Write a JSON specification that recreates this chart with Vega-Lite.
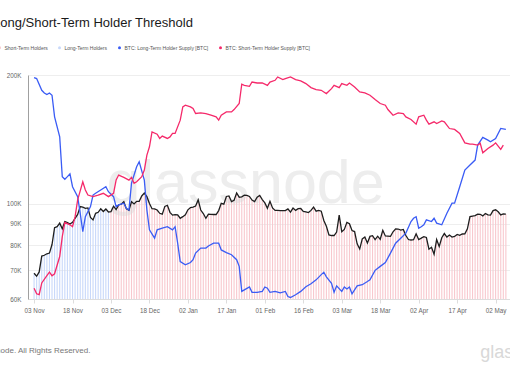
{
  "$schema": "https://vega.github.io/schema/vega-lite/v6.json",
  "width": 488,
  "height": 224,
  "autosize": {"type": "none"},
  "padding": {"left": 28, "top": 75, "right": 0, "bottom": 70},
  "background": "white",
  "config": {
    "view": {"stroke": null},
    "font": "Liberation Sans",
    "axis": {"labelFont": "Liberation Sans", "titleFont": "Liberation Sans"},
    "legend": {"labelFont": "Liberation Sans"}
  },
  "title": {
    "text": "Long/Short-Term Holder Threshold",
    "anchor": "start",
    "frame": "group",
    "dx": -35,
    "offset": 5,
    "baseline": "alphabetic",
    "fontSize": 13,
    "fontWeight": "normal",
    "color": "#1a1a1a",
    "font": "Liberation Sans"
  },
  "datasets": {
    "price": [
      {"date": "2024-11-03", "price": 68900, "holder": "Long-Term Holders"},
      {"date": "2024-11-04", "price": 67800, "holder": "Long-Term Holders"},
      {"date": "2024-11-05", "price": 69400, "holder": "Long-Term Holders"},
      {"date": "2024-11-06", "price": 75600, "holder": "Long-Term Holders"},
      {"date": "2024-11-07", "price": 75900, "holder": "Long-Term Holders"},
      {"date": "2024-11-08", "price": 76500, "holder": "Long-Term Holders"},
      {"date": "2024-11-09", "price": 76800, "holder": "Long-Term Holders"},
      {"date": "2024-11-10", "price": 80400, "holder": "Long-Term Holders"},
      {"date": "2024-11-11", "price": 88000, "holder": "Long-Term Holders"},
      {"date": "2024-11-12", "price": 88500, "holder": "Long-Term Holders"},
      {"date": "2024-11-13", "price": 90200, "holder": "Long-Term Holders"},
      {"date": "2024-11-14", "price": 87500, "holder": "Long-Term Holders"},
      {"date": "2024-11-15", "price": 91000, "holder": "Long-Term Holders"},
      {"date": "2024-11-16", "price": 90500, "holder": "Long-Term Holders"},
      {"date": "2024-11-17", "price": 89800, "holder": "Long-Term Holders"},
      {"date": "2024-11-18", "price": 90600, "holder": "Long-Term Holders"},
      {"date": "2024-11-19", "price": 92600, "holder": "Long-Term Holders"},
      {"date": "2024-11-20", "price": 94500, "holder": "Long-Term Holders"},
      {"date": "2024-11-21", "price": 98600, "holder": "Long-Term Holders"},
      {"date": "2024-11-22", "price": 98300, "holder": "Long-Term Holders"},
      {"date": "2024-11-23", "price": 97700, "holder": "Long-Term Holders"},
      {"date": "2024-11-24", "price": 97900, "holder": "Long-Term Holders"},
      {"date": "2024-11-25", "price": 93000, "holder": "Long-Term Holders"},
      {"date": "2024-11-26", "price": 91800, "holder": "Long-Term Holders"},
      {"date": "2024-11-27", "price": 95100, "holder": "Long-Term Holders"},
      {"date": "2024-11-28", "price": 95600, "holder": "Long-Term Holders"},
      {"date": "2024-11-29", "price": 97400, "holder": "Long-Term Holders"},
      {"date": "2024-11-30", "price": 96000, "holder": "Long-Term Holders"},
      {"date": "2024-12-01", "price": 97300, "holder": "Long-Term Holders"},
      {"date": "2024-12-02", "price": 95800, "holder": "Long-Term Holders"},
      {"date": "2024-12-03", "price": 96000, "holder": "Short-Term Holders"},
      {"date": "2024-12-04", "price": 98800, "holder": "Short-Term Holders"},
      {"date": "2024-12-05", "price": 97000, "holder": "Short-Term Holders"},
      {"date": "2024-12-06", "price": 99500, "holder": "Short-Term Holders"},
      {"date": "2024-12-07", "price": 99900, "holder": "Short-Term Holders"},
      {"date": "2024-12-08", "price": 101200, "holder": "Short-Term Holders"},
      {"date": "2024-12-09", "price": 97400, "holder": "Short-Term Holders"},
      {"date": "2024-12-10", "price": 96700, "holder": "Short-Term Holders"},
      {"date": "2024-12-11", "price": 101200, "holder": "Short-Term Holders"},
      {"date": "2024-12-12", "price": 100000, "holder": "Short-Term Holders"},
      {"date": "2024-12-13", "price": 101400, "holder": "Short-Term Holders"},
      {"date": "2024-12-14", "price": 101400, "holder": "Short-Term Holders"},
      {"date": "2024-12-15", "price": 104400, "holder": "Short-Term Holders"},
      {"date": "2024-12-16", "price": 106000, "holder": "Short-Term Holders"},
      {"date": "2024-12-17", "price": 104000, "holder": "Short-Term Holders"},
      {"date": "2024-12-18", "price": 100200, "holder": "Short-Term Holders"},
      {"date": "2024-12-19", "price": 97500, "holder": "Short-Term Holders"},
      {"date": "2024-12-20", "price": 97400, "holder": "Short-Term Holders"},
      {"date": "2024-12-21", "price": 96800, "holder": "Short-Term Holders"},
      {"date": "2024-12-22", "price": 95100, "holder": "Short-Term Holders"},
      {"date": "2024-12-23", "price": 94700, "holder": "Short-Term Holders"},
      {"date": "2024-12-24", "price": 98700, "holder": "Short-Term Holders"},
      {"date": "2024-12-25", "price": 99300, "holder": "Short-Term Holders"},
      {"date": "2024-12-26", "price": 95600, "holder": "Short-Term Holders"},
      {"date": "2024-12-27", "price": 94200, "holder": "Short-Term Holders"},
      {"date": "2024-12-28", "price": 94400, "holder": "Short-Term Holders"},
      {"date": "2024-12-29", "price": 94300, "holder": "Short-Term Holders"},
      {"date": "2024-12-30", "price": 92600, "holder": "Short-Term Holders"},
      {"date": "2024-12-31", "price": 93400, "holder": "Short-Term Holders"},
      {"date": "2025-01-01", "price": 94300, "holder": "Short-Term Holders"},
      {"date": "2025-01-02", "price": 96900, "holder": "Short-Term Holders"},
      {"date": "2025-01-03", "price": 98100, "holder": "Short-Term Holders"},
      {"date": "2025-01-04", "price": 98300, "holder": "Short-Term Holders"},
      {"date": "2025-01-05", "price": 98900, "holder": "Short-Term Holders"},
      {"date": "2025-01-06", "price": 102200, "holder": "Short-Term Holders"},
      {"date": "2025-01-07", "price": 96800, "holder": "Short-Term Holders"},
      {"date": "2025-01-08", "price": 95000, "holder": "Short-Term Holders"},
      {"date": "2025-01-09", "price": 92600, "holder": "Short-Term Holders"},
      {"date": "2025-01-10", "price": 94700, "holder": "Short-Term Holders"},
      {"date": "2025-01-11", "price": 94600, "holder": "Short-Term Holders"},
      {"date": "2025-01-12", "price": 94500, "holder": "Short-Term Holders"},
      {"date": "2025-01-13", "price": 94500, "holder": "Short-Term Holders"},
      {"date": "2025-01-14", "price": 96500, "holder": "Short-Term Holders"},
      {"date": "2025-01-15", "price": 100300, "holder": "Short-Term Holders"},
      {"date": "2025-01-16", "price": 99900, "holder": "Short-Term Holders"},
      {"date": "2025-01-17", "price": 104100, "holder": "Short-Term Holders"},
      {"date": "2025-01-18", "price": 104400, "holder": "Short-Term Holders"},
      {"date": "2025-01-19", "price": 101300, "holder": "Short-Term Holders"},
      {"date": "2025-01-20", "price": 102000, "holder": "Short-Term Holders"},
      {"date": "2025-01-21", "price": 106100, "holder": "Short-Term Holders"},
      {"date": "2025-01-22", "price": 103700, "holder": "Short-Term Holders"},
      {"date": "2025-01-23", "price": 103900, "holder": "Short-Term Holders"},
      {"date": "2025-01-24", "price": 104800, "holder": "Short-Term Holders"},
      {"date": "2025-01-25", "price": 104700, "holder": "Short-Term Holders"},
      {"date": "2025-01-26", "price": 104100, "holder": "Short-Term Holders"},
      {"date": "2025-01-27", "price": 102100, "holder": "Short-Term Holders"},
      {"date": "2025-01-28", "price": 101300, "holder": "Short-Term Holders"},
      {"date": "2025-01-29", "price": 103700, "holder": "Short-Term Holders"},
      {"date": "2025-01-30", "price": 104700, "holder": "Short-Term Holders"},
      {"date": "2025-01-31", "price": 102400, "holder": "Short-Term Holders"},
      {"date": "2025-02-01", "price": 100600, "holder": "Short-Term Holders"},
      {"date": "2025-02-02", "price": 97700, "holder": "Short-Term Holders"},
      {"date": "2025-02-03", "price": 101400, "holder": "Short-Term Holders"},
      {"date": "2025-02-04", "price": 97900, "holder": "Short-Term Holders"},
      {"date": "2025-02-05", "price": 96600, "holder": "Short-Term Holders"},
      {"date": "2025-02-06", "price": 96600, "holder": "Short-Term Holders"},
      {"date": "2025-02-07", "price": 96500, "holder": "Short-Term Holders"},
      {"date": "2025-02-08", "price": 96500, "holder": "Short-Term Holders"},
      {"date": "2025-02-09", "price": 96500, "holder": "Short-Term Holders"},
      {"date": "2025-02-10", "price": 97400, "holder": "Short-Term Holders"},
      {"date": "2025-02-11", "price": 95700, "holder": "Short-Term Holders"},
      {"date": "2025-02-12", "price": 97800, "holder": "Short-Term Holders"},
      {"date": "2025-02-13", "price": 96600, "holder": "Short-Term Holders"},
      {"date": "2025-02-14", "price": 97500, "holder": "Short-Term Holders"},
      {"date": "2025-02-15", "price": 97600, "holder": "Short-Term Holders"},
      {"date": "2025-02-16", "price": 96100, "holder": "Short-Term Holders"},
      {"date": "2025-02-17", "price": 95800, "holder": "Short-Term Holders"},
      {"date": "2025-02-18", "price": 95500, "holder": "Short-Term Holders"},
      {"date": "2025-02-19", "price": 96600, "holder": "Short-Term Holders"},
      {"date": "2025-02-20", "price": 98300, "holder": "Short-Term Holders"},
      {"date": "2025-02-21", "price": 96200, "holder": "Short-Term Holders"},
      {"date": "2025-02-22", "price": 96600, "holder": "Short-Term Holders"},
      {"date": "2025-02-23", "price": 96200, "holder": "Short-Term Holders"},
      {"date": "2025-02-24", "price": 91500, "holder": "Short-Term Holders"},
      {"date": "2025-02-25", "price": 88700, "holder": "Short-Term Holders"},
      {"date": "2025-02-26", "price": 84700, "holder": "Short-Term Holders"},
      {"date": "2025-02-27", "price": 84400, "holder": "Short-Term Holders"},
      {"date": "2025-02-28", "price": 84400, "holder": "Short-Term Holders"},
      {"date": "2025-03-01", "price": 86000, "holder": "Short-Term Holders"},
      {"date": "2025-03-02", "price": 94200, "holder": "Short-Term Holders"},
      {"date": "2025-03-03", "price": 86100, "holder": "Short-Term Holders"},
      {"date": "2025-03-04", "price": 87200, "holder": "Short-Term Holders"},
      {"date": "2025-03-05", "price": 90600, "holder": "Short-Term Holders"},
      {"date": "2025-03-06", "price": 89900, "holder": "Short-Term Holders"},
      {"date": "2025-03-07", "price": 86700, "holder": "Short-Term Holders"},
      {"date": "2025-03-08", "price": 86200, "holder": "Short-Term Holders"},
      {"date": "2025-03-09", "price": 80700, "holder": "Short-Term Holders"},
      {"date": "2025-03-10", "price": 78500, "holder": "Short-Term Holders"},
      {"date": "2025-03-11", "price": 82900, "holder": "Short-Term Holders"},
      {"date": "2025-03-12", "price": 83700, "holder": "Short-Term Holders"},
      {"date": "2025-03-13", "price": 81100, "holder": "Short-Term Holders"},
      {"date": "2025-03-14", "price": 84000, "holder": "Short-Term Holders"},
      {"date": "2025-03-15", "price": 84300, "holder": "Short-Term Holders"},
      {"date": "2025-03-16", "price": 82600, "holder": "Short-Term Holders"},
      {"date": "2025-03-17", "price": 84100, "holder": "Short-Term Holders"},
      {"date": "2025-03-18", "price": 82700, "holder": "Short-Term Holders"},
      {"date": "2025-03-19", "price": 86800, "holder": "Short-Term Holders"},
      {"date": "2025-03-20", "price": 84200, "holder": "Short-Term Holders"},
      {"date": "2025-03-21", "price": 84100, "holder": "Short-Term Holders"},
      {"date": "2025-03-22", "price": 84000, "holder": "Short-Term Holders"},
      {"date": "2025-03-23", "price": 86100, "holder": "Short-Term Holders"},
      {"date": "2025-03-24", "price": 87500, "holder": "Short-Term Holders"},
      {"date": "2025-03-25", "price": 87400, "holder": "Short-Term Holders"},
      {"date": "2025-03-26", "price": 86900, "holder": "Short-Term Holders"},
      {"date": "2025-03-27", "price": 87200, "holder": "Short-Term Holders"},
      {"date": "2025-03-28", "price": 84400, "holder": "Short-Term Holders"},
      {"date": "2025-03-29", "price": 82600, "holder": "Short-Term Holders"},
      {"date": "2025-03-30", "price": 82400, "holder": "Short-Term Holders"},
      {"date": "2025-03-31", "price": 82500, "holder": "Short-Term Holders"},
      {"date": "2025-04-01", "price": 85200, "holder": "Short-Term Holders"},
      {"date": "2025-04-02", "price": 82600, "holder": "Short-Term Holders"},
      {"date": "2025-04-03", "price": 83200, "holder": "Short-Term Holders"},
      {"date": "2025-04-04", "price": 83900, "holder": "Short-Term Holders"},
      {"date": "2025-04-05", "price": 83500, "holder": "Short-Term Holders"},
      {"date": "2025-04-06", "price": 78400, "holder": "Short-Term Holders"},
      {"date": "2025-04-07", "price": 79200, "holder": "Short-Term Holders"},
      {"date": "2025-04-08", "price": 76300, "holder": "Short-Term Holders"},
      {"date": "2025-04-09", "price": 82600, "holder": "Short-Term Holders"},
      {"date": "2025-04-10", "price": 79600, "holder": "Short-Term Holders"},
      {"date": "2025-04-11", "price": 83400, "holder": "Short-Term Holders"},
      {"date": "2025-04-12", "price": 85300, "holder": "Short-Term Holders"},
      {"date": "2025-04-13", "price": 83700, "holder": "Short-Term Holders"},
      {"date": "2025-04-14", "price": 84600, "holder": "Short-Term Holders"},
      {"date": "2025-04-15", "price": 83700, "holder": "Short-Term Holders"},
      {"date": "2025-04-16", "price": 84000, "holder": "Short-Term Holders"},
      {"date": "2025-04-17", "price": 84900, "holder": "Short-Term Holders"},
      {"date": "2025-04-18", "price": 84500, "holder": "Short-Term Holders"},
      {"date": "2025-04-19", "price": 85100, "holder": "Short-Term Holders"},
      {"date": "2025-04-20", "price": 85200, "holder": "Short-Term Holders"},
      {"date": "2025-04-21", "price": 87500, "holder": "Short-Term Holders"},
      {"date": "2025-04-22", "price": 93400, "holder": "Short-Term Holders"},
      {"date": "2025-04-23", "price": 93700, "holder": "Short-Term Holders"},
      {"date": "2025-04-24", "price": 93900, "holder": "Short-Term Holders"},
      {"date": "2025-04-25", "price": 94700, "holder": "Short-Term Holders"},
      {"date": "2025-04-26", "price": 94600, "holder": "Short-Term Holders"},
      {"date": "2025-04-27", "price": 93800, "holder": "Short-Term Holders"},
      {"date": "2025-04-28", "price": 95000, "holder": "Short-Term Holders"},
      {"date": "2025-04-29", "price": 94300, "holder": "Short-Term Holders"},
      {"date": "2025-04-30", "price": 94200, "holder": "Short-Term Holders"},
      {"date": "2025-05-01", "price": 96500, "holder": "Short-Term Holders"},
      {"date": "2025-05-02", "price": 96900, "holder": "Short-Term Holders"},
      {"date": "2025-05-03", "price": 95900, "holder": "Short-Term Holders"},
      {"date": "2025-05-04", "price": 94300, "holder": "Short-Term Holders"},
      {"date": "2025-05-05", "price": 94800, "holder": "Short-Term Holders"},
      {"date": "2025-05-06", "price": 94700, "holder": "Short-Term Holders"}
    ],
    "lth": [
      {"date": "2024-11-03", "value": 197200}, {"date": "2024-11-04", "value": 196200},
      {"date": "2024-11-06", "value": 184200}, {"date": "2024-11-07", "value": 181600},
      {"date": "2024-11-08", "value": 180000}, {"date": "2024-11-09", "value": 181600},
      {"date": "2024-11-10", "value": 179400}, {"date": "2024-11-11", "value": 159700},
      {"date": "2024-11-13", "value": 143400}, {"date": "2024-11-14", "value": 115800},
      {"date": "2024-11-15", "value": 114200}, {"date": "2024-11-16", "value": 115800},
      {"date": "2024-11-17", "value": 117500}, {"date": "2024-11-18", "value": 109700},
      {"date": "2024-11-20", "value": 104000}, {"date": "2024-11-21", "value": 95100},
      {"date": "2024-11-22", "value": 86200}, {"date": "2024-11-23", "value": 93400},
      {"date": "2024-11-25", "value": 98600}, {"date": "2024-11-26", "value": 104900},
      {"date": "2024-11-27", "value": 105900}, {"date": "2024-11-29", "value": 107800},
      {"date": "2024-12-01", "value": 109700}, {"date": "2024-12-02", "value": 106800},
      {"date": "2024-12-04", "value": 104000}, {"date": "2024-12-05", "value": 98600},
      {"date": "2024-12-06", "value": 99500}, {"date": "2024-12-08", "value": 100400},
      {"date": "2024-12-09", "value": 97700}, {"date": "2024-12-10", "value": 96800},
      {"date": "2024-12-11", "value": 111800}, {"date": "2024-12-13", "value": 122100},
      {"date": "2024-12-14", "value": 125500}, {"date": "2024-12-16", "value": 113700},
      {"date": "2024-12-17", "value": 96800}, {"date": "2024-12-18", "value": 87000},
      {"date": "2024-12-20", "value": 83200}, {"date": "2024-12-21", "value": 87000},
      {"date": "2024-12-23", "value": 87800}, {"date": "2024-12-25", "value": 88500},
      {"date": "2024-12-27", "value": 87000}, {"date": "2024-12-28", "value": 88500},
      {"date": "2024-12-29", "value": 81000}, {"date": "2024-12-30", "value": 73400},
      {"date": "2025-01-01", "value": 72100}, {"date": "2025-01-03", "value": 73000},
      {"date": "2025-01-04", "value": 74100}, {"date": "2025-01-05", "value": 76800},
      {"date": "2025-01-07", "value": 78900}, {"date": "2025-01-09", "value": 78900},
      {"date": "2025-01-10", "value": 79800}, {"date": "2025-01-12", "value": 81000},
      {"date": "2025-01-14", "value": 81000}, {"date": "2025-01-15", "value": 78100},
      {"date": "2025-01-17", "value": 77000}, {"date": "2025-01-19", "value": 76100},
      {"date": "2025-01-21", "value": 74100}, {"date": "2025-01-22", "value": 71500},
      {"date": "2025-01-23", "value": 62500}, {"date": "2025-01-24", "value": 63000},
      {"date": "2025-01-26", "value": 64000}, {"date": "2025-01-27", "value": 62200},
      {"date": "2025-01-29", "value": 62200}, {"date": "2025-01-31", "value": 62500},
      {"date": "2025-02-01", "value": 64000}, {"date": "2025-02-02", "value": 63600},
      {"date": "2025-02-03", "value": 62200}, {"date": "2025-02-05", "value": 62500},
      {"date": "2025-02-07", "value": 62000}, {"date": "2025-02-09", "value": 62500},
      {"date": "2025-02-10", "value": 60800}, {"date": "2025-02-11", "value": 60500},
      {"date": "2025-02-13", "value": 61400}, {"date": "2025-02-15", "value": 62500},
      {"date": "2025-02-17", "value": 64100}, {"date": "2025-02-19", "value": 65100},
      {"date": "2025-02-21", "value": 66500}, {"date": "2025-02-23", "value": 68400},
      {"date": "2025-02-24", "value": 69300}, {"date": "2025-02-25", "value": 67600},
      {"date": "2025-02-27", "value": 65300}, {"date": "2025-02-28", "value": 62200},
      {"date": "2025-03-01", "value": 64400}, {"date": "2025-03-03", "value": 62500},
      {"date": "2025-03-04", "value": 64000}, {"date": "2025-03-05", "value": 63300},
      {"date": "2025-03-06", "value": 64000}, {"date": "2025-03-07", "value": 61700},
      {"date": "2025-03-09", "value": 64400}, {"date": "2025-03-11", "value": 64800},
      {"date": "2025-03-13", "value": 65900}, {"date": "2025-03-14", "value": 66500},
      {"date": "2025-03-16", "value": 70000}, {"date": "2025-03-18", "value": 71500},
      {"date": "2025-03-20", "value": 73000}, {"date": "2025-03-22", "value": 76800},
      {"date": "2025-03-24", "value": 81000}, {"date": "2025-03-26", "value": 83200},
      {"date": "2025-03-28", "value": 85500}, {"date": "2025-03-30", "value": 91000},
      {"date": "2025-03-31", "value": 92600}, {"date": "2025-04-01", "value": 93400},
      {"date": "2025-04-02", "value": 87800}, {"date": "2025-04-03", "value": 88500},
      {"date": "2025-04-04", "value": 89400}, {"date": "2025-04-05", "value": 91800},
      {"date": "2025-04-07", "value": 91000}, {"date": "2025-04-08", "value": 92600},
      {"date": "2025-04-09", "value": 90200}, {"date": "2025-04-11", "value": 89400},
      {"date": "2025-04-13", "value": 95100}, {"date": "2025-04-15", "value": 100400},
      {"date": "2025-04-16", "value": 100400}, {"date": "2025-04-18", "value": 109700},
      {"date": "2025-04-20", "value": 120000}, {"date": "2025-04-22", "value": 123300},
      {"date": "2025-04-24", "value": 126600}, {"date": "2025-04-25", "value": 137200},
      {"date": "2025-04-27", "value": 143000}, {"date": "2025-04-29", "value": 140900},
      {"date": "2025-04-30", "value": 139700}, {"date": "2025-05-02", "value": 142200},
      {"date": "2025-05-04", "value": 150100}, {"date": "2025-05-06", "value": 149300}
    ],
    "sth": [
      {"date": "2024-11-03", "value": 63600}, {"date": "2024-11-04", "value": 61700},
      {"date": "2024-11-05", "value": 61400}, {"date": "2024-11-06", "value": 65400},
      {"date": "2024-11-08", "value": 68000}, {"date": "2024-11-09", "value": 69300},
      {"date": "2024-11-10", "value": 68000}, {"date": "2024-11-11", "value": 68700},
      {"date": "2024-11-13", "value": 75400}, {"date": "2024-11-14", "value": 83900},
      {"date": "2024-11-15", "value": 90500}, {"date": "2024-11-17", "value": 89400},
      {"date": "2024-11-18", "value": 88500}, {"date": "2024-11-19", "value": 93400},
      {"date": "2024-11-20", "value": 102200}, {"date": "2024-11-22", "value": 112700},
      {"date": "2024-11-23", "value": 107800}, {"date": "2024-11-24", "value": 104900},
      {"date": "2024-11-26", "value": 104000}, {"date": "2024-11-28", "value": 104900},
      {"date": "2024-11-30", "value": 105900}, {"date": "2024-12-02", "value": 104000},
      {"date": "2024-12-04", "value": 105900}, {"date": "2024-12-05", "value": 113700},
      {"date": "2024-12-06", "value": 116800}, {"date": "2024-12-08", "value": 115400},
      {"date": "2024-12-10", "value": 113700}, {"date": "2024-12-11", "value": 115400},
      {"date": "2024-12-12", "value": 111800}, {"date": "2024-12-13", "value": 112700},
      {"date": "2024-12-15", "value": 115800}, {"date": "2024-12-16", "value": 120000},
      {"date": "2024-12-17", "value": 130000}, {"date": "2024-12-18", "value": 136000},
      {"date": "2024-12-19", "value": 147300}, {"date": "2024-12-21", "value": 145500},
      {"date": "2024-12-22", "value": 142200}, {"date": "2024-12-23", "value": 144000},
      {"date": "2024-12-25", "value": 142200}, {"date": "2024-12-26", "value": 143400},
      {"date": "2024-12-27", "value": 146100}, {"date": "2024-12-28", "value": 146100},
      {"date": "2024-12-30", "value": 156900}, {"date": "2024-12-31", "value": 168500},
      {"date": "2025-01-01", "value": 170000}, {"date": "2025-01-03", "value": 168500},
      {"date": "2025-01-04", "value": 167000}, {"date": "2025-01-05", "value": 162600},
      {"date": "2025-01-07", "value": 163100}, {"date": "2025-01-09", "value": 162600},
      {"date": "2025-01-11", "value": 161100}, {"date": "2025-01-13", "value": 159700},
      {"date": "2025-01-14", "value": 156900}, {"date": "2025-01-15", "value": 161100},
      {"date": "2025-01-17", "value": 164000}, {"date": "2025-01-19", "value": 164000},
      {"date": "2025-01-20", "value": 166100}, {"date": "2025-01-22", "value": 171600},
      {"date": "2025-01-23", "value": 190300}, {"date": "2025-01-24", "value": 189200},
      {"date": "2025-01-26", "value": 188200}, {"date": "2025-01-27", "value": 192600},
      {"date": "2025-01-29", "value": 191600}, {"date": "2025-01-31", "value": 191600},
      {"date": "2025-02-02", "value": 189200}, {"date": "2025-02-03", "value": 192600},
      {"date": "2025-02-05", "value": 194400}, {"date": "2025-02-06", "value": 197900},
      {"date": "2025-02-08", "value": 195100}, {"date": "2025-02-09", "value": 196200},
      {"date": "2025-02-11", "value": 197900}, {"date": "2025-02-13", "value": 195100},
      {"date": "2025-02-15", "value": 193700}, {"date": "2025-02-17", "value": 191000},
      {"date": "2025-02-19", "value": 186900}, {"date": "2025-02-21", "value": 184900},
      {"date": "2025-02-23", "value": 184200}, {"date": "2025-02-24", "value": 182600},
      {"date": "2025-02-25", "value": 181000}, {"date": "2025-02-27", "value": 185900},
      {"date": "2025-02-28", "value": 189200}, {"date": "2025-03-02", "value": 186900},
      {"date": "2025-03-03", "value": 191000}, {"date": "2025-03-05", "value": 189200},
      {"date": "2025-03-06", "value": 191600}, {"date": "2025-03-08", "value": 187500},
      {"date": "2025-03-10", "value": 182600}, {"date": "2025-03-12", "value": 181600},
      {"date": "2025-03-14", "value": 179400}, {"date": "2025-03-16", "value": 175300},
      {"date": "2025-03-18", "value": 171600}, {"date": "2025-03-20", "value": 170000},
      {"date": "2025-03-21", "value": 166100}, {"date": "2025-03-23", "value": 161100},
      {"date": "2025-03-25", "value": 163100}, {"date": "2025-03-27", "value": 162600},
      {"date": "2025-03-28", "value": 159700}, {"date": "2025-03-30", "value": 157500},
      {"date": "2025-04-01", "value": 153600}, {"date": "2025-04-02", "value": 159700},
      {"date": "2025-04-04", "value": 161100}, {"date": "2025-04-05", "value": 156900},
      {"date": "2025-04-06", "value": 153600}, {"date": "2025-04-08", "value": 155500},
      {"date": "2025-04-09", "value": 154100}, {"date": "2025-04-11", "value": 156300},
      {"date": "2025-04-12", "value": 155500}, {"date": "2025-04-14", "value": 150000},
      {"date": "2025-04-16", "value": 149300}, {"date": "2025-04-18", "value": 146100},
      {"date": "2025-04-20", "value": 138900}, {"date": "2025-04-22", "value": 137900},
      {"date": "2025-04-23", "value": 137900}, {"date": "2025-04-25", "value": 137200},
      {"date": "2025-04-26", "value": 138500}, {"date": "2025-04-27", "value": 131700},
      {"date": "2025-04-29", "value": 134800}, {"date": "2025-05-01", "value": 137200},
      {"date": "2025-05-02", "value": 138900}, {"date": "2025-05-04", "value": 134100},
      {"date": "2025-05-05", "value": 137200}
    ]
  },
  "layer": [
    {
      "data": {"name": "price"},
      "mark": {"type": "bar", "width": 1.1},
      "encoding": {
        "x": {
          "field": "date",
          "type": "temporal",
          "scale": {
            "type": "utc",
            "domain": [
              {"year": 2024, "month": 11, "date": 2, "hours": 14, "utc": true},
              {"year": 2025, "month": 5, "date": 8, "utc": true}
            ]
          },
          "axis": {
            "values": [
              {"year": 2024, "month": 11, "date": 3, "utc": true},
              {"year": 2024, "month": 11, "date": 18, "utc": true},
              {"year": 2024, "month": 12, "date": 3, "utc": true},
              {"year": 2024, "month": 12, "date": 18, "utc": true},
              {"year": 2025, "month": 1, "date": 2, "utc": true},
              {"year": 2025, "month": 1, "date": 17, "utc": true},
              {"year": 2025, "month": 2, "date": 1, "utc": true},
              {"year": 2025, "month": 2, "date": 16, "utc": true},
              {"year": 2025, "month": 3, "date": 3, "utc": true},
              {"year": 2025, "month": 3, "date": 18, "utc": true},
              {"year": 2025, "month": 4, "date": 2, "utc": true},
              {"year": 2025, "month": 4, "date": 17, "utc": true},
              {"year": 2025, "month": 5, "date": 2, "utc": true}
            ],
            "labelExpr": "utcFormat(datum.value, '%d %b')",
            "grid": false,
            "tickColor": "#dddddd",
            "tickSize": 4,
            "domainColor": "#dddddd",
            "labelColor": "#666666",
            "labelFontSize": 6.3,
            "labelPadding": 4,
            "title": "© 2025 Glassnode. All Rights Reserved.",
            "titleX": -81,
            "titleY": 51,
            "titleAnchor": null,
            "titleAlign": "left",
            "titleBaseline": "middle",
            "titleFontSize": 8,
            "titleFontWeight": "normal",
            "titleColor": "#777777"
          }
        },
        "y": {
          "field": "price",
          "type": "quantitative",
          "scale": {"type": "log", "domain": [60000, 200000]},
          "axis": {
            "values": [60000, 70000, 80000, 90000, 100000, 200000],
            "labelExpr": "datum.value / 1000 + 'K'",
            "grid": true,
            "gridColor": "#eeeeee",
            "ticks": false,
            "domainColor": "#a0a0a0",
            "labelColor": "#666666",
            "labelFontSize": 6.3,
            "labelPadding": 7,
            "title": null
          }
        },
        "y2": {"datum": 60000},
        "color": {
          "field": "holder",
          "type": "nominal",
          "scale": {
            "domain": ["Short-Term Holders", "Long-Term Holders", "BTC: Long-Term Holder Supply [BTC]", "BTC: Short-Term Holder Supply [BTC]"],
            "range": ["#f8c8ce", "#c8d8fa", "#3a5cf5", "#f5296a"]
          },
          "legend": {
            "orient": "none",
            "legendX": -31,
            "legendY": -30,
            "direction": "horizontal",
            "title": null,
            "padding": 0,
            "symbolType": "circle",
            "symbolSize": 9,
            "symbolStrokeWidth": 0,
            "labelFontSize": 5,
            "labelColor": "#555555",
            "labelOffset": 2.5,
            "columnPadding": 9
          }
        }
      }
    },
    {
      "data": {"values": [{}]},
      "mark": {"type": "text", "text": "glassnode", "fontSize": 61, "color": "#d8d8d8", "opacity": 0.45, "align": "center", "baseline": "alphabetic", "font": "Liberation Sans"},
      "encoding": {
        "x": {"datum": {"year": 2025, "month": 1, "date": 24, "hours": 12, "utc": true}, "type": "temporal"},
        "y": {"datum": 100500, "type": "quantitative", "scale": {"type": "log", "domain": [60000, 200000]}}
      }
    },
    {
      "data": {"name": "price"},
      "mark": {"type": "line", "color": "#1e1e1e", "strokeWidth": 1.3},
      "encoding": {
        "x": {"field": "date", "type": "temporal"},
        "y": {"field": "price", "type": "quantitative", "scale": {"type": "log", "domain": [60000, 200000]}}
      }
    },
    {
      "data": {"name": "lth"},
      "mark": {"type": "line", "strokeWidth": 1.3},
      "encoding": {
        "x": {"field": "date", "type": "temporal"},
        "y": {"field": "value", "type": "quantitative", "scale": {"type": "log", "domain": [60000, 200000]}},
        "color": {"datum": "BTC: Long-Term Holder Supply [BTC]", "legend": null}
      }
    },
    {
      "data": {"name": "sth"},
      "mark": {"type": "line", "strokeWidth": 1.3},
      "encoding": {
        "x": {"field": "date", "type": "temporal"},
        "y": {"field": "value", "type": "quantitative", "scale": {"type": "log", "domain": [60000, 200000]}},
        "color": {"datum": "BTC: Short-Term Holder Supply [BTC]", "legend": null}
      }
    },
    {
      "data": {"values": [{}]},
      "mark": {"type": "text", "text": "glassnode", "fontSize": 18, "color": "#d8d8d8", "align": "left", "baseline": "alphabetic", "font": "Liberation Sans", "clip": false},
      "encoding": {
        "x": {"datum": {"year": 2025, "month": 4, "date": 26, "utc": true}, "type": "temporal"},
        "y": {"datum": 43800, "type": "quantitative", "scale": {"type": "log", "domain": [60000, 200000]}}
      }
    }
  ]
}
